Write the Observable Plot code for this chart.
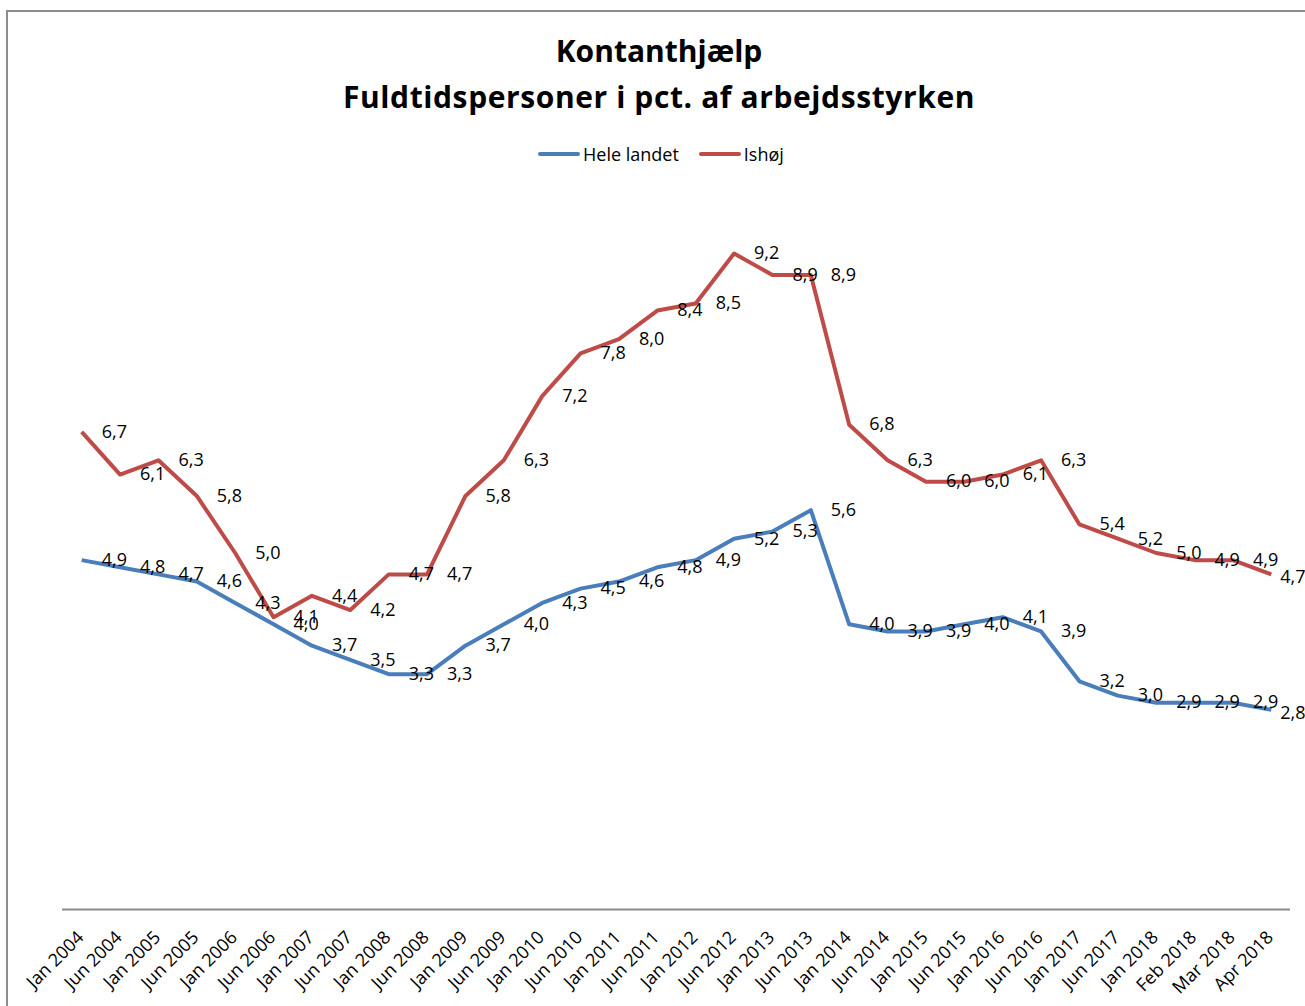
<!DOCTYPE html>
<html><head><meta charset="utf-8">
<script src="https://cdn.jsdelivr.net/npm/d3@7"></script>
<script src="https://cdn.jsdelivr.net/npm/@observablehq/plot@0.6"></script>
<style>
html,body{margin:0;padding:0;background:#fff;}
body{width:1305px;height:1006px;overflow:hidden;position:relative;font-family:"Open Sans",sans-serif;color:#000;}
#frame{position:absolute;left:6px;top:10px;width:1400px;height:1100px;border:2px solid #8c8c8c;box-sizing:border-box;}
#title{position:absolute;left:0;top:28px;width:1318px;text-align:center;font-weight:700;font-size:30px;line-height:46px;}
#title .l2{letter-spacing:0.6px;}
#legend{position:absolute;left:538px;top:142px;height:24px;display:flex;align-items:center;font-size:18px;line-height:24px;white-space:nowrap;}
#chart{position:absolute;left:0;top:180px;}
</style></head>
<body>
<div id="frame"></div>
<div id="title"></div>
<div id="legend"></div>
<div id="chart"></div>
<script>
const categories = ["Jan 2004","Jun 2004","Jan 2005","Jun 2005","Jan 2006","Jun 2006","Jan 2007","Jun 2007","Jan 2008","Jun 2008","Jan 2009","Jun 2009","Jan 2010","Jun 2010","Jan 2011","Jun 2011","Jan 2012","Jun 2012","Jan 2013","Jun 2013","Jan 2014","Jun 2014","Jan 2015","Jun 2015","Jan 2016","Jun 2016","Jan 2017","Jun 2017","Jan 2018","Feb 2018","Mar 2018","Apr 2018"];
const heleLandet = [4.9,4.8,4.7,4.6,4.3,4.0,3.7,3.5,3.3,3.3,3.7,4.0,4.3,4.5,4.6,4.8,4.9,5.2,5.3,5.6,4.0,3.9,3.9,4.0,4.1,3.9,3.2,3.0,2.9,2.9,2.9,2.8];
const ishoj = [6.7,6.1,6.3,5.8,5.0,4.1,4.4,4.2,4.7,4.7,5.8,6.3,7.2,7.8,8.0,8.4,8.5,9.2,8.9,8.9,6.8,6.3,6.0,6.0,6.1,6.3,5.4,5.2,5.0,4.9,4.9,4.7];
const seriesNames = ["Hele landet","Ishøj"];
const seriesColors = ["#4A7EBB","#BE4B48"];
const titleText = ["Kontanthjælp","Fuldtidspersoner i pct. af arbejdsstyrken"];

const seriesValues = [heleLandet, ishoj];
const data = [];
seriesNames.forEach((s, si) => {
  seriesValues[si].forEach((v, i) => data.push({series: s, cat: categories[i], i, value: v}));
});
const fmt = v => d3.format(".1f")(v).replace(".", ",");
const n = categories.length;

// title
const title = document.getElementById("title");
titleText.forEach((t, k) => {
  const div = document.createElement("div");
  div.className = "l" + (k + 1);
  div.textContent = t;
  title.appendChild(div);
});

// legend
const legend = document.getElementById("legend");
seriesNames.forEach((s, si) => {
  const item = document.createElement("div");
  item.style.display = "flex";
  item.style.alignItems = "center";
  if (si > 0) item.style.marginLeft = "20px";
  item.innerHTML = `<svg width="42" height="24"><line x1="2" x2="40" y1="12" y2="12" stroke="${seriesColors[si]}" stroke-width="4" stroke-linecap="round"/></svg><span style="margin-left:3px">${s}</span>`;
  legend.appendChild(item);
});

const font = {fontFamily: "'Open Sans', sans-serif", fontSize: 18, fill: "#000"};
const chart = Plot.plot({
  width: 1305,
  height: 826,
  marginTop: 16,
  marginBottom: 97,
  marginLeft: 62,
  marginRight: 15,
  style: {fontFamily: "'Open Sans', sans-serif", background: "transparent", overflow: "visible"},
  x: {type: "point", domain: categories, padding: 0.5, round: false, axis: null},
  y: {domain: [0, 10], axis: null},
  color: {domain: seriesNames, range: seriesColors},
  marks: [
    Plot.ruleY([0], {stroke: "#898989", strokeWidth: 2}),
    Plot.line(data, {x: "cat", y: "value", z: "series", stroke: "series", strokeWidth: 4, strokeLinejoin: "round", strokeLinecap: "butt"}),
    Plot.text(data, {filter: d => d.i < n - 1, x: "cat", y: "value", text: d => fmt(d.value), dx: 20, textAnchor: "start", lineAnchor: "middle", ...font}),
    Plot.text(data, {filter: d => d.i === n - 1, x: "cat", y: "value", text: d => fmt(d.value), dx: 9, dy: 3, textAnchor: "start", lineAnchor: "middle", ...font}),
    Plot.text(categories, {x: d => d, frameAnchor: "bottom", rotate: -45, textAnchor: "end", lineAnchor: "middle", dx: -1, dy: 25, ...font})
  ]
});
document.getElementById("chart").appendChild(chart);
</script>
</body></html>
